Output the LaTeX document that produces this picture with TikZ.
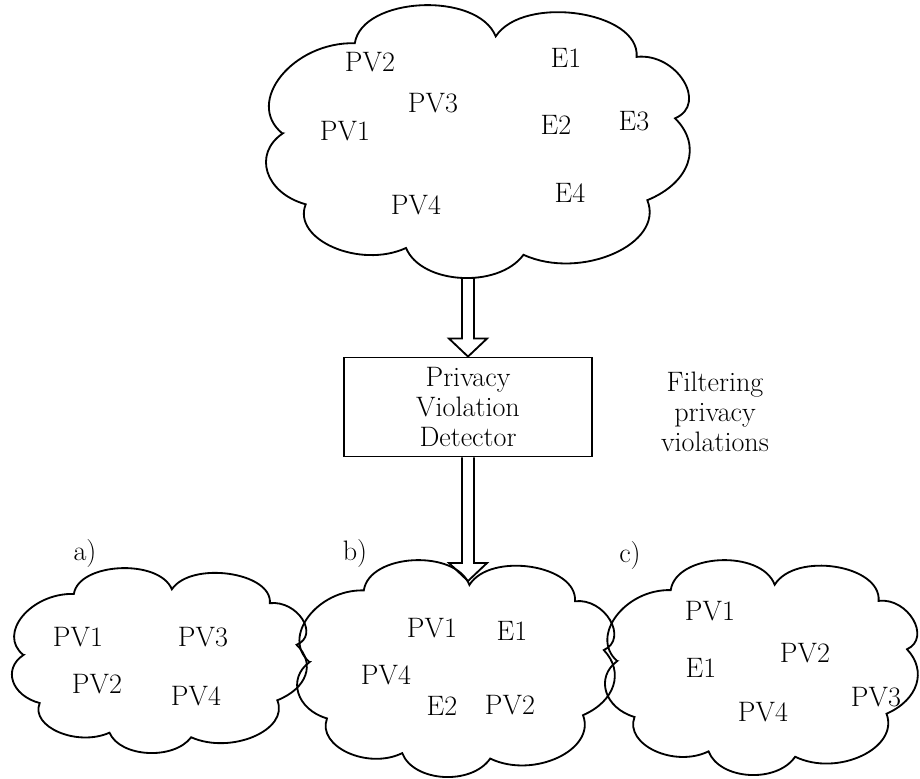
\documentclass[tikz,border=0pt]{standalone}
\usepackage{tikz}
\usetikzlibrary{calc}

\tikzset{
  cloudline/.style={line width=1.3pt, line join=miter},
  lbl/.style={font=\fontsize{20}{21.3}\selectfont},
  hollow/.style={line width=1.3pt, line join=miter},
  pics/puffcloud/.style={code={
    \draw[cloudline] (-0.91,0.06) to[bend right=65] (-0.57,0.72) to[bend right=80, looseness=1.33] (0.09,0.77)
      to[bend right=80, looseness=1.27] (0.75,0.62) to[bend right=78] (0.93,0.17) to[bend right=45] (0.80,-0.43)
      to[bend right=70, looseness=1.2] (0.22,-0.83) to[bend right=70, looseness=1.28] (-0.33,-0.78)
      to[bend right=70, looseness=1.2] (-0.80,-0.46) to[bend right=55] cycle;
    \coordinate (-bottom) at (0,-1);
  }},
}

\begin{document}
\begin{tikzpicture}[x=0.025cm, y=-0.025cm]
    \useasboundingbox (0,0) rectangle (920,778);

    % Clouds
    \pic[xscale=213.5, yscale=-136.5] (all) at (476.5,141.5) {puffcloud};
    \pic[xscale=148.5, yscale=-92.5] (cla) at (158.5,660.5) {puffcloud};
    \pic[xscale=160, yscale=-108.5] (clb) at (455,668.5) {puffcloud};
    \pic[xscale=157.5, yscale=-107.5] (clc) at (760.5,667.5) {puffcloud};

    % Detector
    \node[draw, line width=1.3pt, minimum width=6.2cm, minimum height=2.475cm, lbl, align=center] (detector) at (468,407) {Privacy\\Violation\\Detector};
    \node[lbl, align=center] (filter) at (715,412) {Filtering\\privacy\\violations};

    % Labels in the top cloud
    \node[lbl] (t-pv2) at (370,62) {PV2};
    \node[lbl] (t-pv3) at (433,103) {PV3};
    \node[lbl] (t-pv1) at (345,131) {PV1};
    \node[lbl] (t-pv4) at (416,205) {PV4};
    \node[lbl] (t-e1) at (566,58) {E1};
    \node[lbl] (t-e2) at (556,125) {E2};
    \node[lbl] (t-e3) at (634,121) {E3};
    \node[lbl] (t-e4) at (570,193) {E4};

    % Bottom clouds
    \node[lbl] (la) at (85,553) {a)};
    \node[lbl] (lb) at (355,553) {b)};
    \node[lbl] (lc) at (630,555) {c)};

    \node[lbl] (a-pv1) at (78,637) {PV1};
    \node[lbl] (a-pv3) at (203,637) {PV3};
    \node[lbl] (a-pv2) at (97,684) {PV2};
    \node[lbl] (a-pv4) at (196,696) {PV4};

    \node[lbl] (b-pv1) at (432,628) {PV1};
    \node[lbl] (b-e1) at (512,631) {E1};
    \node[lbl] (b-pv4) at (386,675) {PV4};
    \node[lbl] (b-e2) at (442,706) {E2};
    \node[lbl] (b-pv2) at (510,705) {PV2};

    \node[lbl] (c-pv1) at (710,611) {PV1};
    \node[lbl] (c-e1) at (701,668) {E1};
    \node[lbl] (c-pv2) at (805,653) {PV2};
    \node[lbl] (c-pv4) at (763,712) {PV4};
    \node[lbl] (c-pv3) at (876,697) {PV3};

    % Arrows
    \coordinate (src) at (detector.north |- all-bottom);
    \coordinate (tip) at (detector.south |- 0,581);
    \draw[hollow] ($(src)+(-6,0)$) -- ($(detector.north)+(-6,-18)$) -- ($(detector.north)+(-19,-18)$)
        -- (detector.north) -- ($(detector.north)+(19,-18)$) -- ($(detector.north)+(6,-18)$) -- ($(src)+(6,0)$);
    \draw[hollow] ($(detector.south)+(-6,0)$) -- ($(tip)+(-6,-18)$) -- ($(tip)+(-19,-18)$)
        -- (tip) -- ($(tip)+(19,-18)$) -- ($(tip)+(6,-18)$) -- ($(detector.south)+(6,0)$);
\end{tikzpicture}
\end{document}
